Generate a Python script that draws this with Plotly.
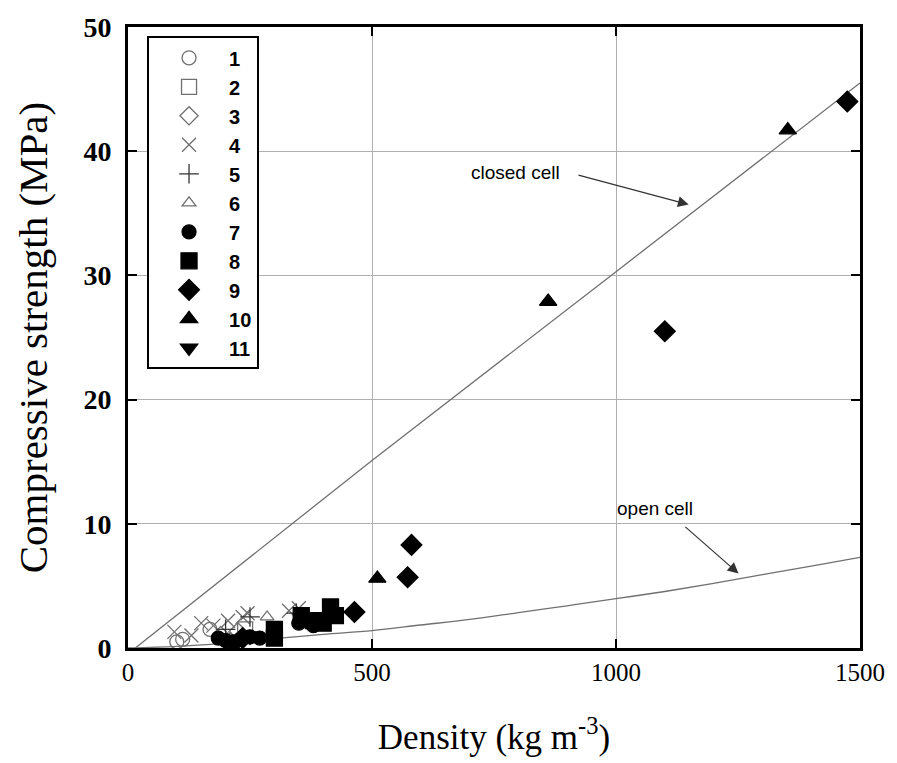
import plotly.graph_objects as go

# ---- data ----
s1_x = [100, 112, 168];        s1_y = [0.5, 0.7, 1.5]           # open circle
s2_x = [240];                  s2_y = [1.5]                     # open square
s3_x = [190, 225];             s3_y = [1.0, 1.3]                # open diamond
s4_x = [95, 130, 150, 175, 205, 235, 245, 330, 350]
s4_y = [1.3, 1.0, 2.0, 1.8, 2.2, 2.5, 2.8, 3.0, 3.2]            # x
s5_x = [200, 250, 345];        s5_y = [1.5, 2.5, 2.8]           # +
s6_x = [210, 285];             s6_y = [0.8, 2.5]                # open triangle
s7_x = [185, 200, 215, 230, 250, 270, 350, 380]
s7_y = [0.8, 0.6, 0.5, 0.7, 0.9, 0.8, 2.0, 1.8]                 # filled circle
s8_x = [300, 300, 355, 380, 400, 415, 425]
s8_y = [1.5, 0.8, 2.6, 2.2, 2.0, 3.3, 2.6]                      # filled square
s9_x = [235, 464, 573, 581, 1100, 1474]
s9_y = [0.8, 2.9, 5.7, 8.3, 25.5, 44.0]                         # filled diamond
s10_x = [511, 861, 1352];      s10_y = [5.6, 27.9, 41.7]        # filled triangle
s11_x = [225, 245, 250];       s11_y = [0.5, 1.0, 0.9]          # filled triangle-down

closed_x = [15, 500, 1000, 1500]
closed_y = [0.0, 15.1, 30.3, 45.5]
open_x = [0, 100, 200, 300, 400, 500, 600, 700, 800, 900, 1000, 1100, 1200, 1300, 1400, 1500]
open_y = [0.0, 0.13, 0.4, 0.75, 1.1, 1.4, 1.85, 2.3, 2.85, 3.4, 3.97, 4.55, 5.2, 5.9, 6.6, 7.3]

x_ticks = [0, 500, 1000, 1500]
y_ticks = [0, 10, 20, 30, 40, 50]

GRAY = "#707070"
fig = go.Figure()

fig.add_trace(go.Scatter(x=closed_x, y=closed_y, mode="lines",
                         line=dict(color=GRAY, width=1.3), showlegend=False, hoverinfo="skip"))
fig.add_trace(go.Scatter(x=open_x, y=open_y, mode="lines", line_shape="spline",
                         line=dict(color=GRAY, width=1.3), showlegend=False, hoverinfo="skip"))

series = [
    ("1", s1_x, s1_y, "circle-open", GRAY, 14),
    ("2", s2_x, s2_y, "square-open", GRAY, 15),
    ("3", s3_x, s3_y, "diamond-open", GRAY, 14),
    ("4", s4_x, s4_y, "x-thin-open", GRAY, 14),
    ("5", s5_x, s5_y, "cross-thin-open", "#333333", 14),
    ("6", s6_x, s6_y, "triangle-up-open", GRAY, 12),
    ("7", s7_x, s7_y, "circle", "black", 14),
    ("8", s8_x, s8_y, "square", "black", 16),
    ("9", s9_x, s9_y, "diamond", "black", 16),
    ("10", s10_x, s10_y, "triangle-up", "black", 15),
    ("11", s11_x, s11_y, "triangle-down", "black", 15),
]
for name, xs, ys, sym, col, sz in series:
    fig.add_trace(go.Scatter(
        x=xs, y=ys, mode="markers", name=name,
        marker=dict(symbol=sym, size=sz, color=col, line=dict(color=col, width=1.3)),
    ))

axis_common = dict(
    showline=True, linecolor="black", linewidth=3, mirror="ticks",
    ticks="inside", ticklen=9, tickwidth=2, tickcolor="black",
    showgrid=True, gridcolor="#b0b0b0", gridwidth=1, zeroline=False,
)

fig.update_layout(
    width=897, height=763,
    margin=dict(l=128, r=36, t=24, b=115),
    paper_bgcolor="white", plot_bgcolor="white",
    xaxis=dict(range=[0, 1500], tickvals=x_ticks,
               tickfont=dict(family="Liberation Serif", size=25, color="black"),
               title=dict(text="Density (kg m<sup>-3</sup>)",
                          font=dict(family="Liberation Serif", size=35, color="black"),
                          standoff=40),
               **axis_common),
    yaxis=dict(range=[0, 50], tickvals=y_ticks, ticklabelstandoff=8,
               tickfont=dict(family="Liberation Serif", size=28, color="black", weight="bold"),
               title=dict(text="Compressive strength (MPa)",
                          font=dict(family="Liberation Serif", size=41, color="black"),
                          standoff=24),
               **axis_common),
    legend=dict(x=0.026, y=0.985, xanchor="left", yanchor="top",
                bordercolor="black", borderwidth=2, bgcolor="white",
                font=dict(family="Arial", size=20, color="black", weight="bold"),
                itemwidth=70, entrywidth=40, tracegroupgap=0),
    annotations=[
        dict(x=1149, y=35.7, ax=920, ay=38.1, xref="x", yref="y", axref="x", ayref="y",
             showarrow=True, arrowhead=2, arrowsize=1.8, arrowwidth=1.2, arrowcolor="#333333",
             text=""),
        dict(x=795, y=38.3, xref="x", yref="y", text="closed cell", showarrow=False,
             font=dict(family="Arial", size=19, color="black")),
        dict(x=1251, y=6.0, ax=1139, ay=9.86, xref="x", yref="y", axref="x", ayref="y",
             showarrow=True, arrowhead=2, arrowsize=1.8, arrowwidth=1.2, arrowcolor="#333333",
             text=""),
        dict(x=1080, y=11.2, xref="x", yref="y", text="open cell", showarrow=False,
             font=dict(family="Arial", size=19, color="black")),
    ],
)

fig.write_html("out.html")
